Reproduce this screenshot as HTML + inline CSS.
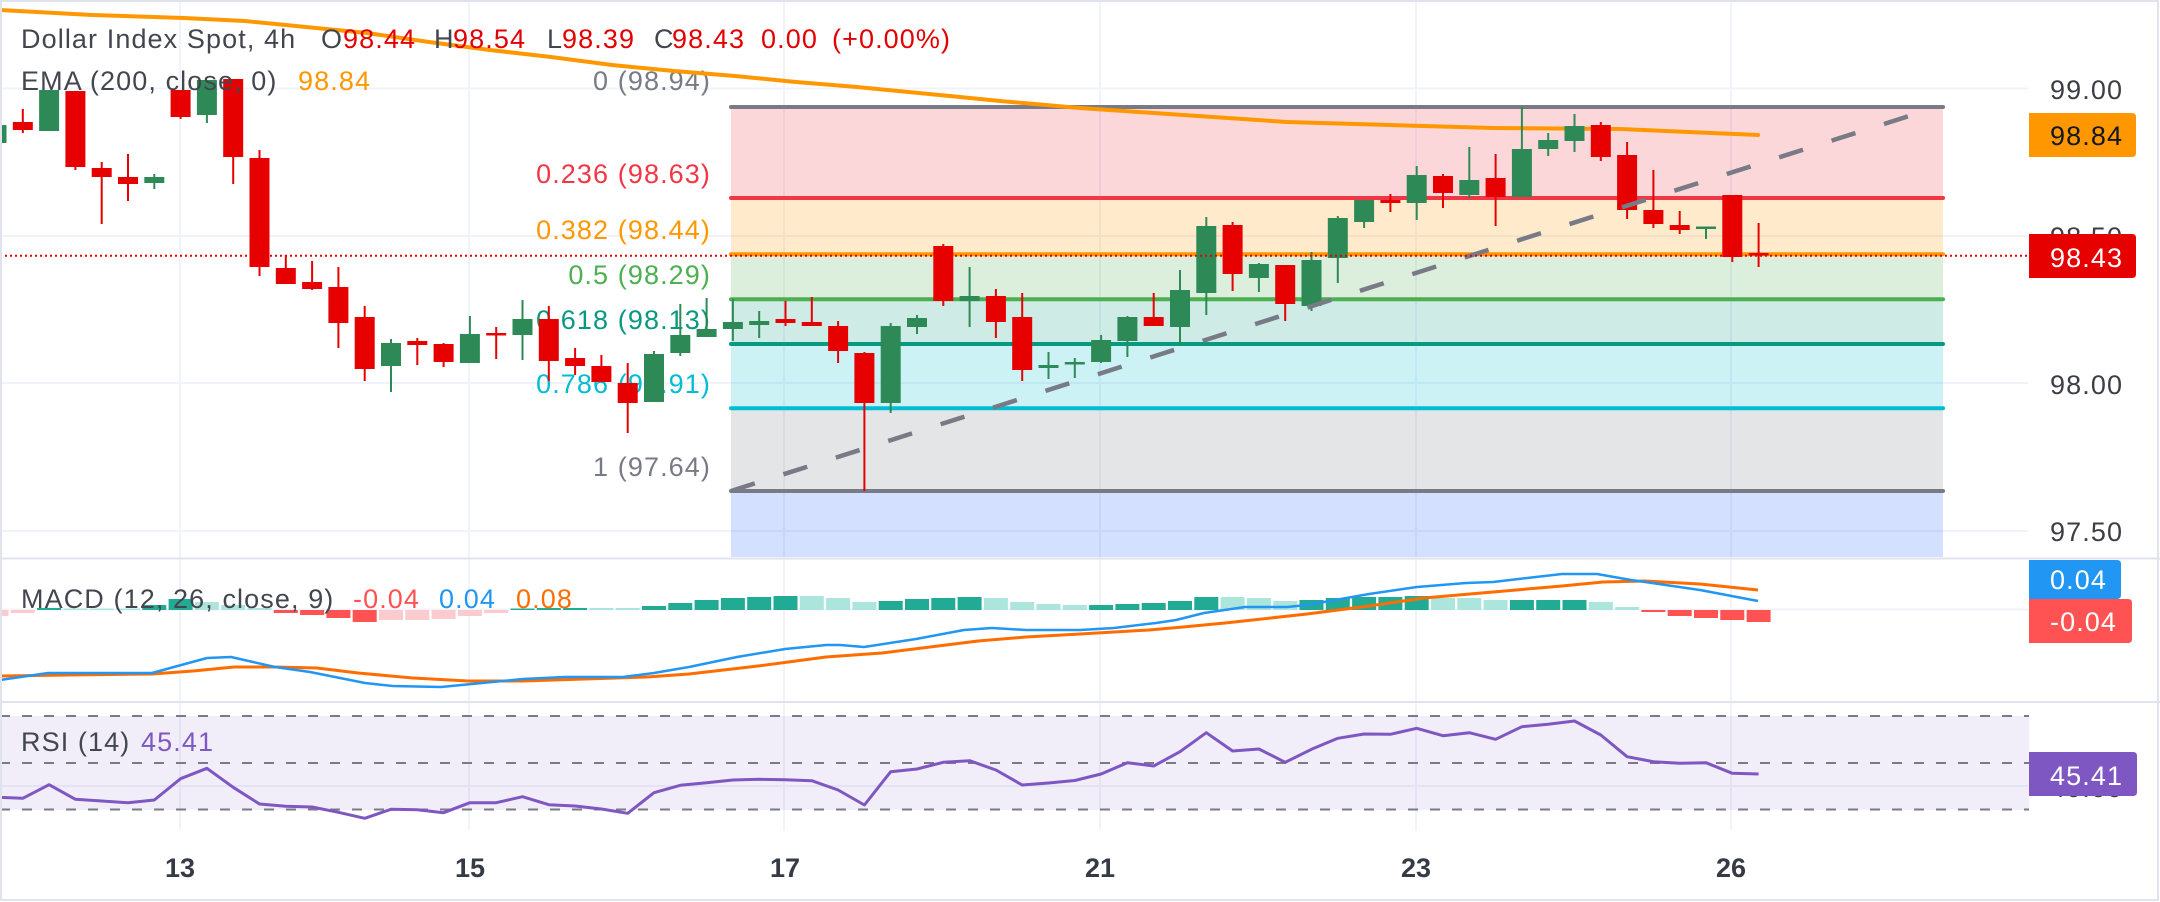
<!DOCTYPE html>
<html><head><meta charset="utf-8"><style>
html,body{margin:0;padding:0;background:#fff;}
svg{display:block;}
text{font-family:"Liberation Sans",sans-serif;font-size:27px;letter-spacing:1.1px;}
</style></head><body>
<svg width="2160" height="902" viewBox="0 0 2160 902" xmlns="http://www.w3.org/2000/svg">
<defs>
<clipPath id="mp"><rect x="0" y="2" width="2028" height="555"/></clipPath>
<clipPath id="mc"><rect x="0" y="560" width="2028" height="141"/></clipPath>
<clipPath id="rc"><rect x="0" y="704" width="2028" height="126"/></clipPath>
</defs>
<rect width="2160" height="902" fill="#fff"/>

<!-- gridlines -->
<g stroke="#f0f3fa" stroke-width="2">
<line x1="0" y1="88.5" x2="2028" y2="88.5"/>
<line x1="0" y1="236" x2="2028" y2="236"/>
<line x1="0" y1="383" x2="2028" y2="383"/>
<line x1="0" y1="531" x2="2028" y2="531"/>
<line x1="0" y1="609.5" x2="2028" y2="609.5"/>
<line x1="0" y1="786" x2="2028" y2="786"/>
<line x1="180" y1="2" x2="180" y2="830"/>
<line x1="469" y1="2" x2="469" y2="830"/>
<line x1="784" y1="2" x2="784" y2="830"/>
<line x1="1100" y1="2" x2="1100" y2="830"/>
<line x1="1416" y1="2" x2="1416" y2="830"/>
<line x1="1731" y1="2" x2="1731" y2="830"/>
</g>

<g clip-path="url(#mp)">
<!-- fib fills -->
<rect x="731" y="107" width="1212" height="91" fill="rgba(242,54,69,0.2)"/>
<rect x="731" y="198" width="1212" height="56" fill="rgba(255,152,0,0.2)"/>
<rect x="731" y="254" width="1212" height="45" fill="rgba(76,175,80,0.2)"/>
<rect x="731" y="299" width="1212" height="45" fill="rgba(8,153,129,0.2)"/>
<rect x="731" y="344" width="1212" height="64" fill="rgba(0,188,212,0.2)"/>
<rect x="731" y="408" width="1212" height="83" fill="rgba(120,123,134,0.2)"/>
<rect x="731" y="491" width="1212" height="70" fill="rgba(41,98,255,0.2)"/>
<!-- fib lines -->
<g stroke-width="4" stroke-linecap="round">
<line x1="731" y1="107" x2="1943" y2="107" stroke="#787b86"/>
<line x1="731" y1="198" x2="1943" y2="198" stroke="#f23645"/>
<line x1="731" y1="254.3" x2="1943" y2="254.3" stroke="#ff9800"/>
<line x1="731" y1="299.3" x2="1943" y2="299.3" stroke="#4caf50"/>
<line x1="731" y1="344" x2="1943" y2="344" stroke="#089981"/>
<line x1="731" y1="408.3" x2="1943" y2="408.3" stroke="#00bcd4"/>
<line x1="731" y1="491" x2="1943" y2="491" stroke="#787b86"/>
</g>
<!-- fib labels -->
<g text-anchor="end">
<text x="711" y="90" fill="#787b86">0 (98.94)</text>
<text x="711" y="183" fill="#f23645">0.236 (98.63)</text>
<text x="711" y="239" fill="#ff9800">0.382 (98.44)</text>
<text x="711" y="284" fill="#4caf50">0.5 (98.29)</text>
<text x="711" y="329" fill="#089981">0.618 (98.13)</text>
<text x="711" y="393" fill="#00bcd4">0.786 (97.91)</text>
<text x="711" y="476" fill="#787b86">1 (97.64)</text>
</g>

<!-- EMA -->
<polyline fill="none" stroke="#ff9800" stroke-width="4" stroke-linecap="round" stroke-linejoin="round" points="0,10 92,15 184,18 245,21 306,27 367,33 429,42 490,50 551,57 612,65 674,71 735,76 796,82 857,87 960,97 1000,101 1080,108 1183,115 1287,122 1390,125 1493,128 1620,129 1758,135"/>

<!-- red candles -->
<g fill="#e60000">
<rect x="21.8" y="109" width="2" height="24"/><rect x="12.8" y="122" width="20" height="8"/>
<rect x="74.4" y="91" width="2" height="79"/><rect x="65.4" y="91" width="20" height="76"/>
<rect x="100.7" y="162" width="2" height="62"/><rect x="91.7" y="168" width="20" height="9"/>
<rect x="127" y="154" width="2" height="47"/><rect x="118" y="177" width="20" height="7"/>
<rect x="179.6" y="90" width="2" height="29"/><rect x="170.6" y="90" width="20" height="27"/>
<rect x="232.2" y="79" width="2" height="105"/><rect x="223.2" y="79" width="20" height="78"/>
<rect x="258.5" y="150" width="2" height="126"/><rect x="249.5" y="158" width="20" height="109"/>
<rect x="284.8" y="255" width="2" height="29"/><rect x="275.8" y="268" width="20" height="16"/>
<rect x="311.1" y="261" width="2" height="29"/><rect x="302.1" y="282" width="20" height="7"/>
<rect x="337.4" y="267" width="2" height="81"/><rect x="328.4" y="287" width="20" height="36"/>
<rect x="363.7" y="306" width="2" height="75"/><rect x="354.7" y="317" width="20" height="52"/>
<rect x="416.3" y="338" width="2" height="27"/><rect x="407.3" y="341" width="20" height="4"/>
<rect x="442.6" y="343" width="2" height="24"/><rect x="433.6" y="344" width="20" height="18"/>
<rect x="495.2" y="327" width="2" height="32"/><rect x="486.2" y="333" width="20" height="2.5"/>
<rect x="547.8" y="306" width="2" height="75"/><rect x="538.8" y="319" width="20" height="42"/>
<rect x="574.1" y="348" width="2" height="27"/><rect x="565.1" y="358" width="20" height="8"/>
<rect x="600.4" y="355" width="2" height="27"/><rect x="591.4" y="366" width="20" height="16"/>
<rect x="626.7" y="363" width="2" height="70"/><rect x="617.7" y="383" width="20" height="20"/>
<rect x="784.5" y="301" width="2" height="25"/><rect x="775.5" y="319" width="20" height="4"/>
<rect x="810.8" y="297" width="2" height="29"/><rect x="801.8" y="322" width="20" height="4"/>
<rect x="837.1" y="321" width="2" height="42"/><rect x="828.1" y="326" width="20" height="25"/>
<rect x="863.4" y="352" width="2" height="139"/><rect x="854.4" y="353" width="20" height="50"/>
<rect x="942.3" y="244" width="2" height="62"/><rect x="933.3" y="246" width="20" height="55"/>
<rect x="994.9" y="289" width="2" height="49"/><rect x="985.9" y="296" width="20" height="26"/>
<rect x="1021.2" y="293" width="2" height="88"/><rect x="1012.2" y="317" width="20" height="53"/>
<rect x="1152.7" y="293" width="2" height="33"/><rect x="1143.7" y="317" width="20" height="9"/>
<rect x="1231.6" y="222" width="2" height="69"/><rect x="1222.6" y="225" width="20" height="49"/>
<rect x="1284.2" y="265" width="2" height="56"/><rect x="1275.2" y="265" width="20" height="39"/>
<rect x="1389.4" y="194" width="2" height="18"/><rect x="1380.4" y="200" width="20" height="3"/>
<rect x="1442" y="174" width="2" height="34"/><rect x="1433" y="176" width="20" height="17"/>
<rect x="1494.6" y="154" width="2" height="72"/><rect x="1485.6" y="178" width="20" height="19"/>
<rect x="1599.8" y="122" width="2" height="39"/><rect x="1590.8" y="125" width="20" height="32"/>
<rect x="1626.1" y="142" width="2" height="77"/><rect x="1617.1" y="155" width="20" height="55"/>
<rect x="1652.4" y="170" width="2" height="58"/><rect x="1643.4" y="210" width="20" height="14"/>
<rect x="1678.7" y="211" width="2" height="23"/><rect x="1669.7" y="225" width="20" height="5"/>
<rect x="1731.3" y="195" width="2" height="67"/><rect x="1722.3" y="195" width="20" height="62"/>
<rect x="1757.6" y="223" width="2" height="44"/><rect x="1748.6" y="253" width="20" height="2.5"/>
</g>
<!-- green candles -->
<g fill="#2d8a57">
<rect x="-13.5" y="125" width="20" height="18"/>
<rect x="39.1" y="90" width="20" height="41"/>
<rect x="153.3" y="174" width="2" height="15"/><rect x="144.3" y="177" width="20" height="6"/>
<rect x="205.9" y="80" width="2" height="43"/><rect x="196.9" y="80" width="20" height="35"/>
<rect x="390" y="339" width="2" height="53"/><rect x="381" y="343" width="20" height="23"/>
<rect x="468.9" y="316" width="2" height="47"/><rect x="459.9" y="334" width="20" height="29"/>
<rect x="521.5" y="300" width="2" height="60"/><rect x="512.5" y="319" width="20" height="16"/>
<rect x="653" y="351" width="2" height="51"/><rect x="644" y="354" width="20" height="48"/>
<rect x="679.3" y="304" width="2" height="52"/><rect x="670.3" y="335" width="20" height="18"/>
<rect x="705.6" y="298" width="2" height="39"/><rect x="696.6" y="329" width="20" height="8"/>
<rect x="731.9" y="299" width="2" height="42"/><rect x="722.9" y="322" width="20" height="7"/>
<rect x="758.2" y="311" width="2" height="27"/><rect x="749.2" y="321" width="20" height="4"/>
<rect x="889.7" y="323" width="2" height="90"/><rect x="880.7" y="326" width="20" height="77"/>
<rect x="916" y="315" width="2" height="19"/><rect x="907" y="318" width="20" height="9"/>
<rect x="968.6" y="267" width="2" height="60"/><rect x="959.6" y="296" width="20" height="5"/>
<rect x="1047.5" y="352" width="2" height="27"/><rect x="1038.5" y="365" width="20" height="3"/>
<rect x="1073.8" y="358" width="2" height="20"/><rect x="1064.8" y="362" width="20" height="2.5"/>
<rect x="1100.1" y="335" width="2" height="28"/><rect x="1091.1" y="340" width="20" height="22"/>
<rect x="1126.4" y="316" width="2" height="41"/><rect x="1117.4" y="317" width="20" height="24"/>
<rect x="1179" y="270" width="2" height="76"/><rect x="1170" y="290" width="20" height="37"/>
<rect x="1205.3" y="217" width="2" height="98"/><rect x="1196.3" y="226" width="20" height="67"/>
<rect x="1257.9" y="263" width="2" height="29"/><rect x="1248.9" y="264" width="20" height="14"/>
<rect x="1310.5" y="252" width="2" height="59"/><rect x="1301.5" y="260" width="20" height="46"/>
<rect x="1336.8" y="216" width="2" height="67"/><rect x="1327.8" y="218" width="20" height="40"/>
<rect x="1363.1" y="200" width="2" height="28"/><rect x="1354.1" y="200" width="20" height="22"/>
<rect x="1415.7" y="166" width="2" height="54"/><rect x="1406.7" y="175" width="20" height="28"/>
<rect x="1468.3" y="147" width="2" height="51"/><rect x="1459.3" y="180" width="20" height="15"/>
<rect x="1520.9" y="107" width="2" height="90"/><rect x="1511.9" y="149" width="20" height="48"/>
<rect x="1547.2" y="133" width="2" height="23"/><rect x="1538.2" y="140" width="20" height="9"/>
<rect x="1573.5" y="114" width="2" height="38"/><rect x="1564.5" y="126" width="20" height="15"/>
<rect x="1705" y="227" width="2" height="12"/><rect x="1696" y="226.5" width="20" height="2.5"/>
</g>

<!-- trend line -->
<line x1="731" y1="491" x2="1909" y2="116" stroke="#787b86" stroke-width="4.5" stroke-dasharray="25 30"/>

<!-- price line -->
<line x1="0" y1="255.7" x2="2028" y2="255.7" stroke="#e60000" stroke-width="2" stroke-dasharray="2 3"/>
</g>

<!-- right price axis -->
<g fill="#3d3e45">
<text x="2050" y="99">99.00</text>
<text x="2050" y="246">98.50</text>
<text x="2050" y="394">98.00</text>
<text x="2050" y="541">97.50</text>
</g>
<path d="M2029,113 H2132 Q2136,113 2136,117 V153 Q2136,157 2132,157 H2029 Z" fill="#ff9800"/>
<text x="2050" y="145" fill="#131722">98.84</text>
<path d="M2029,234 H2132 Q2136,234 2136,238 V274 Q2136,278 2132,278 H2029 Z" fill="#e60000"/>
<text x="2050" y="267" fill="#fff">98.43</text>

<!-- header legend -->
<g>
<text x="21" y="48" fill="#43464f">Dollar Index Spot, 4h</text>
<text x="321" y="48" fill="#43464f">O</text><text x="343" y="48" fill="#e30000">98.44</text>
<text x="434" y="48" fill="#43464f">H</text><text x="453" y="48" fill="#e30000">98.54</text>
<text x="547" y="48" fill="#43464f">L</text><text x="562" y="48" fill="#e30000">98.39</text>
<text x="654" y="48" fill="#43464f">C</text><text x="672" y="48" fill="#e30000">98.43</text>
<text x="761" y="48" fill="#e30000">0.00</text><text x="832" y="48" fill="#e30000">(+0.00%)</text>
<text x="21" y="90" fill="#43464f">EMA (200, close, 0)</text>
<text x="298" y="90" fill="#ff9800">98.84</text>
</g>

<!-- separators -->
<rect x="0" y="557.5" width="2160" height="2" fill="#e0e3eb"/>
<rect x="0" y="701" width="2160" height="2" fill="#e0e3eb"/>

<!-- MACD pane -->
<g clip-path="url(#mc)">
<g fill="#22ab94">
<rect x="37.1" y="608" width="24" height="2"/>
<rect x="142.3" y="605" width="24" height="5"/>
<rect x="168.6" y="599" width="24" height="11"/>
<rect x="510.5" y="608.5" width="24" height="1.5"/>
<rect x="536.8" y="608" width="24" height="2"/>
<rect x="563.1" y="608" width="24" height="2"/>
<rect x="642" y="606" width="24" height="4"/>
<rect x="668.3" y="603" width="24" height="7"/>
<rect x="694.6" y="600" width="24" height="10"/>
<rect x="720.9" y="598" width="24" height="12"/>
<rect x="747.2" y="597" width="24" height="13"/>
<rect x="773.5" y="596" width="24" height="14"/>
<rect x="878.7" y="601" width="24" height="9"/>
<rect x="905" y="599" width="24" height="11"/>
<rect x="931.3" y="598" width="24" height="12"/>
<rect x="957.6" y="597" width="24" height="13"/>
<rect x="1089.1" y="605" width="24" height="5"/>
<rect x="1115.4" y="604" width="24" height="6"/>
<rect x="1141.7" y="603" width="24" height="7"/>
<rect x="1168" y="601" width="24" height="9"/>
<rect x="1194.3" y="597" width="24" height="13"/>
<rect x="1299.5" y="600" width="24" height="10"/>
<rect x="1325.8" y="598" width="24" height="12"/>
<rect x="1352.1" y="597" width="24" height="13"/>
<rect x="1378.4" y="597" width="24" height="13"/>
<rect x="1404.7" y="596" width="24" height="14"/>
<rect x="1509.9" y="600" width="24" height="10"/>
<rect x="1536.2" y="600" width="24" height="10"/>
<rect x="1562.5" y="600" width="24" height="10"/>
</g>
<g fill="#ace5dc">
<rect x="63.4" y="608.5" width="24" height="1.5"/>
<rect x="89.7" y="608.5" width="24" height="1.5"/>
<rect x="116" y="608.5" width="24" height="1.5"/>
<rect x="194.9" y="602" width="24" height="8"/>
<rect x="221.2" y="605" width="24" height="5"/>
<rect x="247.5" y="608" width="24" height="2"/>
<rect x="589.4" y="608" width="24" height="2"/>
<rect x="615.7" y="608" width="24" height="2"/>
<rect x="799.8" y="596" width="24" height="14"/>
<rect x="826.1" y="598" width="24" height="12"/>
<rect x="852.4" y="602" width="24" height="8"/>
<rect x="983.9" y="598" width="24" height="12"/>
<rect x="1010.2" y="602" width="24" height="8"/>
<rect x="1036.5" y="604" width="24" height="6"/>
<rect x="1062.8" y="605" width="24" height="5"/>
<rect x="1220.6" y="597" width="24" height="13"/>
<rect x="1246.9" y="598" width="24" height="12"/>
<rect x="1273.2" y="601" width="24" height="9"/>
<rect x="1431" y="598" width="24" height="12"/>
<rect x="1457.3" y="598" width="24" height="12"/>
<rect x="1483.6" y="600" width="24" height="10"/>
<rect x="1588.8" y="602" width="24" height="8"/>
<rect x="1615.1" y="607" width="24" height="3"/>
</g>
<g fill="#fccbcd">
<rect x="-15.5" y="610" width="24" height="6"/>
<rect x="10.8" y="610" width="24" height="3"/>
<rect x="379" y="610" width="24" height="10"/>
<rect x="405.3" y="610" width="24" height="10"/>
<rect x="431.6" y="610" width="24" height="9"/>
<rect x="457.9" y="610" width="24" height="6"/>
<rect x="484.2" y="610" width="24" height="3"/>
</g>
<g fill="#ff5252">
<rect x="273.8" y="610" width="24" height="3"/>
<rect x="300.1" y="610" width="24" height="5"/>
<rect x="326.4" y="610" width="24" height="8"/>
<rect x="352.7" y="610" width="24" height="12"/>
<rect x="1641.4" y="610" width="24" height="2"/>
<rect x="1667.7" y="610" width="24" height="6"/>
<rect x="1694" y="610" width="24" height="8"/>
<rect x="1720.3" y="610" width="24" height="10"/>
<rect x="1746.6" y="610" width="24" height="12"/>
</g>
<polyline fill="none" stroke="#ff6d00" stroke-width="3" stroke-linejoin="round" points="0,676 69,675 152,674 193,671 234,667 275,667 317,668 358,673 413,678 468,681 523,681 585,679 647,677 689,674 758,666 826,657 882,653 930,647 978,641 1026,637 1080,634 1149,630 1183,627 1225,623 1307,614 1369,606 1424,598 1493,592 1562,586 1603,582 1645,581 1700,584 1758,590"/>
<polyline fill="none" stroke="#2196f3" stroke-width="2.5" stroke-linejoin="round" points="0,680 48,673 152,673 207,658 231,657 275,667 310,672 365,683 393,686 441,687 482,683 523,679 565,677 623,677 654,673 689,667 737,657 785,649 826,645 840,645 864,647 916,639 964,630 992,628 1026,630 1080,630 1114,628 1156,623 1176,620 1204,613 1245,607 1287,607 1307,605 1369,594 1417,587 1466,583 1493,582 1562,574 1597,574 1631,580 1700,590 1758,601"/>
</g>
<text x="21" y="608" fill="#43464f">MACD (12, 26, close, 9)</text>
<text x="353" y="608" fill="#ff5252">-0.04</text>
<text x="439" y="608" fill="#2196f3">0.04</text>
<text x="516" y="608" fill="#ff6d00">0.08</text>
<path d="M2029,560 H2117 Q2121,560 2121,564 V595 Q2121,599 2117,599 H2029 Z" fill="#2196f3"/>
<text x="2050" y="589" fill="#fff">0.04</text>
<path d="M2029,599 H2128 Q2132,599 2132,603 V639 Q2132,643 2128,643 H2029 Z" fill="#ff5252"/>
<text x="2050" y="631" fill="#fff">-0.04</text>

<!-- RSI pane -->
<rect x="0" y="716" width="2029" height="94" fill="rgba(126,87,194,0.1)"/>
<g stroke="#787b86" stroke-width="2" stroke-dasharray="10 12">
<line x1="0" y1="716" x2="2029" y2="716"/>
<line x1="0" y1="763" x2="2029" y2="763"/>
<line x1="0" y1="809.5" x2="2029" y2="809.5"/>
</g>
<g clip-path="url(#rc)">
<polyline fill="none" stroke="#7e57c2" stroke-width="3" stroke-linejoin="round" points="-3.5,797.3 22.8,798.3 49.1,784.7 75.4,799.3 101.7,801 128,802.7 154.3,800 180.6,778.7 206.9,768.3 233.2,787.3 259.5,804 285.8,806.3 312.1,807 338.4,812.3 364.7,818.3 391,809.3 417.3,809.7 443.6,812.7 469.9,802.7 496.2,802.7 522.5,796.7 548.8,804.7 575.1,806 601.4,809 627.7,813.3 654,792.7 680.3,785.3 706.6,782.7 732.9,780 759.2,779.3 785.5,779.7 811.8,780.7 838.1,790 864.4,805 890.7,771.7 917,769 943.3,762.3 969.6,760.7 995.9,770 1022.2,785 1048.5,783 1074.8,780.5 1101.1,774 1127.4,762.7 1153.7,766 1180,751.7 1206.3,732.7 1232.6,751 1258.9,749 1285.2,762.3 1311.5,749.3 1337.8,738.3 1364.1,734 1390.4,734.3 1416.7,728.3 1443,735.7 1469.3,732.7 1495.6,739.3 1521.9,726.7 1548.2,724.3 1574.5,721 1600.8,735 1627.1,756.7 1653.4,761.7 1679.7,763.3 1706,762.7 1732.3,773.3 1758.6,774"/>
</g>
<text x="21" y="751" fill="#43464f">RSI (14)</text>
<text x="141" y="751" fill="#7e57c2">45.41</text>
<text x="2050" y="797" fill="#3d3e45">40.00</text>
<path d="M2029,752 H2133 Q2137,752 2137,756 V792 Q2137,796 2133,796 H2029 Z" fill="#7e57c2"/>
<text x="2050" y="785" fill="#fff">45.41</text>

<!-- time axis -->
<g fill="#363a45" font-weight="bold" text-anchor="middle" style="letter-spacing:0">
<text x="180" y="877" style="letter-spacing:0">13</text>
<text x="470" y="877" style="letter-spacing:0">15</text>
<text x="785" y="877" style="letter-spacing:0">17</text>
<text x="1100" y="877" style="letter-spacing:0">21</text>
<text x="1416" y="877" style="letter-spacing:0">23</text>
<text x="1731" y="877" style="letter-spacing:0">26</text>
</g>

<!-- frame -->
<rect x="1" y="1" width="2157" height="899" fill="none" stroke="#e0e3eb" stroke-width="2"/>
</svg>
</body></html>
